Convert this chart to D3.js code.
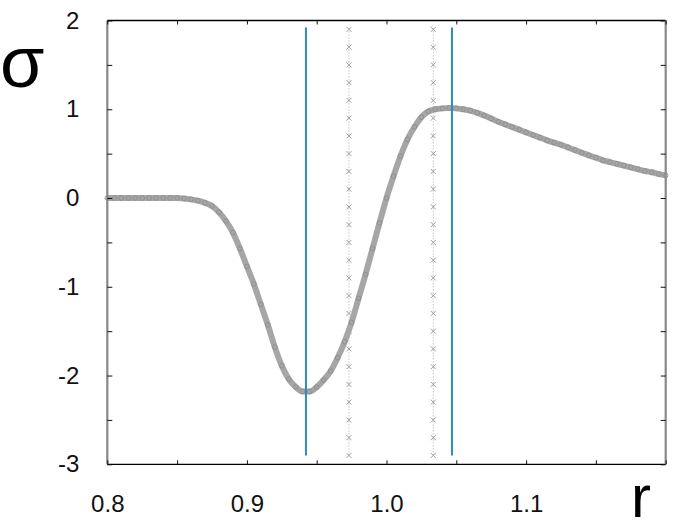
<!DOCTYPE html>
<html>
<head>
<meta charset="utf-8">
<script src="https://cdn.jsdelivr.net/npm/d3@7"></script>
<style>
  body { margin: 0; background: #fff; }
  svg { display: block; font-family: "Liberation Sans", Arial, sans-serif; }
  .labels text { font-size: 24px; font-family: "Liberation Sans", Arial, sans-serif; fill: #111; }
</style>
</head>
<body>
<svg id="chart" width="692" height="530"></svg>
<script>
// sigma(r)
var rValues = [0.800, 0.805, 0.810, 0.815, 0.820, 0.825, 0.830, 0.835, 0.840, 0.845,
               0.850, 0.855, 0.860, 0.865, 0.870, 0.875, 0.880, 0.885, 0.890, 0.895,
               0.900, 0.905, 0.910, 0.915, 0.920, 0.925, 0.930, 0.935, 0.940, 0.945,
               0.950, 0.955, 0.960, 0.965, 0.970, 0.975, 0.980, 0.985, 0.990, 0.995,
               1.000, 1.005, 1.010, 1.015, 1.020, 1.025, 1.030, 1.035, 1.040, 1.045,
               1.050, 1.055, 1.060, 1.065, 1.070, 1.075, 1.080, 1.085, 1.090, 1.095,
               1.100, 1.105, 1.110, 1.115, 1.120, 1.125, 1.130, 1.135, 1.140, 1.145,
               1.150, 1.155, 1.160, 1.165, 1.170, 1.175, 1.180, 1.185, 1.190, 1.195, 1.200];
var sigmaValues = [0, 0, 0, 0, 0, 0, 0, 0, 0, 0,
                   0, -0.005, -0.015, -0.03, -0.055, -0.09, -0.16, -0.26, -0.39, -0.57,
                   -0.77, -0.97, -1.20, -1.43, -1.68, -1.89, -2.04, -2.13, -2.18, -2.18,
                   -2.13, -2.05, -1.95, -1.80, -1.62, -1.40, -1.13, -0.86, -0.57, -0.28,
                   0.00, 0.245, 0.47, 0.66, 0.80, 0.91, 0.975, 1.00, 1.01, 1.015,
                   1.01, 1.0, 0.985, 0.96, 0.93, 0.895, 0.86, 0.83, 0.80, 0.77,
                   0.74, 0.71, 0.68, 0.65, 0.625, 0.60, 0.57, 0.54, 0.51, 0.48,
                   0.455, 0.425, 0.405, 0.385, 0.365, 0.345, 0.325, 0.305, 0.29, 0.27, 0.255];

// vertical markers
var solidLines = [0.9423, 1.0469];
var dottedLines = [0.9731, 1.0335];
var markerSigma = [-2.9, -2.7, -2.5, -2.3, -2.1, -1.9, -1.7, -1.5, -1.3, -1.1, -0.9, -0.7, -0.5,
                   -0.3, -0.1, 0.1, 0.3, 0.5, 0.7, 0.9, 1.1, 1.3, 1.5, 1.7, 1.9];
var lineSpan = [-2.9, 1.92];

// axes
var xTicks = [0.8, 0.85, 0.9, 0.95, 1.0, 1.05, 1.1, 1.15, 1.2];
var xLabels = [0.8, 0.9, 1.0, 1.1];
var yTicks = [-3, -2.5, -2, -1.5, -1, -0.5, 0, 0.5, 1, 1.5, 2];
var yLabels = [-3, -2, -1, 0, 1, 2];

var svg = d3.select("#chart"),
    margin = {top: 20.5, right: 26.3, bottom: 65.7, left: 107.3},
    width = +svg.attr("width") - margin.left - margin.right,
    height = +svg.attr("height") - margin.top - margin.bottom;

var x = d3.scaleLinear().domain([0.8, 1.2]).range([0, width]);
var y = d3.scaleLinear().domain([-3, 2]).range([height, 0]);

var g = svg.append("g")
    .attr("transform", "translate(" + margin.left + "," + margin.top + ")");

var data = rValues.map(function(r, i) { return {r: r, s: sigmaValues[i]}; });

// dotted lines with x markers
dottedLines.forEach(function(v) {
  g.append("line")
      .attr("x1", x(v)).attr("x2", x(v))
      .attr("y1", y(lineSpan[0])).attr("y2", y(lineSpan[1]))
      .attr("stroke", "#aaa")
      .attr("stroke-width", 1)
      .attr("stroke-dasharray", "1,2");
  g.selectAll(null)
      .data(markerSigma)
    .enter().append("path")
      .attr("d", "M-2.5,-2.5L2.5,2.5M-2.5,2.5L2.5,-2.5")
      .attr("transform", function(d) { return "translate(" + x(v) + "," + y(d) + ")"; })
      .attr("stroke", "#a0a0a0")
      .attr("stroke-width", 1)
      .attr("fill", "none");
});

// curve
var line = d3.line()
    .x(function(d) { return x(d.r); })
    .y(function(d) { return y(d.s); })
    .curve(d3.curveMonotoneX);

g.append("path")
    .datum(data)
    .attr("d", line)
    .attr("fill", "none")
    .attr("stroke", "#a6a6a6")
    .attr("stroke-width", 6)
    .attr("stroke-linejoin", "round");

g.selectAll(".pt")
    .data(data)
  .enter().append("circle")
    .attr("class", "pt")
    .attr("cx", function(d) { return x(d.r); })
    .attr("cy", function(d) { return y(d.s); })
    .attr("r", 2.3)
    .attr("fill", "none")
    .attr("stroke", "#909090")
    .attr("stroke-width", 1);

// solid blue lines
g.selectAll(".vline")
    .data(solidLines)
  .enter().append("line")
    .attr("class", "vline")
    .attr("x1", function(d) { return x(d); })
    .attr("x2", function(d) { return x(d); })
    .attr("y1", y(lineSpan[0]))
    .attr("y2", y(lineSpan[1]))
    .attr("stroke", "#2f8bbf")
    .attr("stroke-width", 2);

// frame: black top/bottom, grey sides
g.append("line").attr("x1", 0).attr("x2", width).attr("y1", 0).attr("y2", 0)
    .attr("stroke", "#000").attr("stroke-width", 1.3);
g.append("line").attr("x1", 0).attr("x2", width).attr("y1", height).attr("y2", height)
    .attr("stroke", "#000").attr("stroke-width", 1.3);
g.append("line").attr("x1", 0).attr("x2", 0).attr("y1", 0).attr("y2", height)
    .attr("stroke", "#888").attr("stroke-width", 2.2);
g.append("line").attr("x1", width).attr("x2", width).attr("y1", 0).attr("y2", height)
    .attr("stroke", "#888").attr("stroke-width", 2.2);

// inward ticks
g.append("g")
    .attr("class", "ticks")
    .attr("transform", "translate(0," + height + ")")
    .call(d3.axisBottom(x).tickValues(xTicks).tickSize(-4).tickFormat(""));
g.append("g")
    .attr("class", "ticks")
    .call(d3.axisTop(x).tickValues(xTicks).tickSize(-4).tickFormat(""));
g.append("g")
    .attr("class", "ticks")
    .call(d3.axisLeft(y).tickValues(yTicks).tickSize(-5).tickFormat(""));
g.append("g")
    .attr("class", "ticks")
    .attr("transform", "translate(" + width + ",0)")
    .call(d3.axisRight(y).tickValues(yTicks).tickSize(-5).tickFormat(""));
g.selectAll(".ticks .domain").remove();
g.selectAll(".ticks line").attr("stroke", "#111").attr("stroke-width", 1);

// tick labels (plain hyphen for negatives, as in the original)
g.append("g")
    .attr("class", "labels")
    .attr("transform", "translate(0," + height + ")")
    .call(d3.axisBottom(x).tickValues(xLabels).tickSize(0).tickPadding(31)
      .tickFormat(function(d) { return d.toFixed(1); }));
g.append("g")
    .attr("class", "labels")
    .call(d3.axisLeft(y).tickValues(yLabels).tickSize(0).tickPadding(28)
      .tickFormat(function(d) { return String(d); }));
g.selectAll(".labels .domain").remove();

// axis titles
svg.append("text")
    .attr("x", 0)
    .attr("y", 87)
    .style("font-size", "72px")
    .attr("fill", "#000")
    .text("σ");
svg.append("text")
    .attr("x", 631)
    .attr("y", 517)
    .style("font-size", "60px")
    .attr("fill", "#000")
    .text("r");
</script>
</body>
</html>
